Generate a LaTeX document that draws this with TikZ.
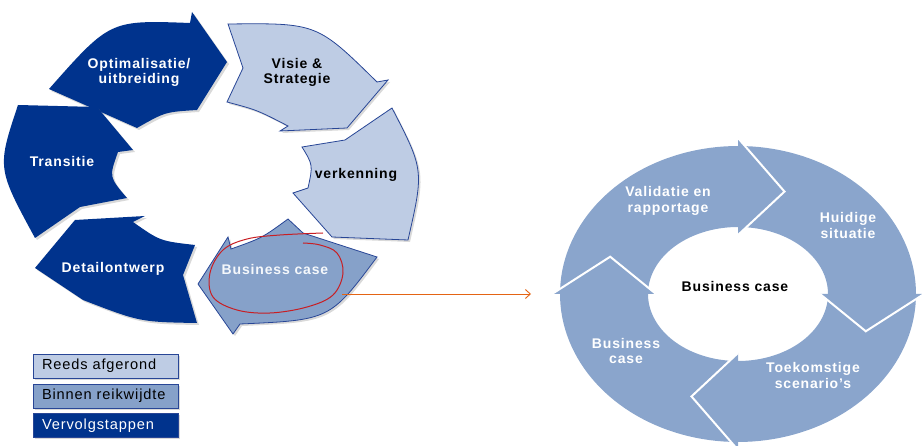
\documentclass[tikz,border=0pt]{standalone}
\usepackage{fontspec}
\setmainfont[LetterSpace=6]{Liberation Sans}
\usepackage{tikz}
\usetikzlibrary{arrows.meta,shadows}
\definecolor{stepnavy}{RGB}{0,51,141}
\definecolor{steplight}{RGB}{190,204,228}
\definecolor{stepmid}{RGB}{134,161,201}
\definecolor{stepedge}{RGB}{40,70,150}
\definecolor{ringblue}{RGB}{138,165,204}
\definecolor{handoff}{RGB}{228,100,20}
\definecolor{marker}{RGB}{200,30,35}
\tikzset{
  shadowed/.style={drop shadow={shadow xshift=2pt,shadow yshift=-2pt,opacity=.3}},
  steptext/.style={font=\bfseries\fontsize{14}{15.5}\selectfont,align=center,inner sep=0pt},
  legendbox/.style={draw=stepedge,line width=0.8pt,shadowed,minimum height=24pt,
    text width=127pt,inner xsep=9pt,align=left,font=\fontsize{14.6}{15}\selectfont},
  ringline/.style={white,line width=2pt,line join=miter},
  handoffline/.style={handoff,line width=0.9pt,-{Straight Barb[length=5pt,width=9pt]}},
}
% ring body and ring head of the right cycle, angles in screen degrees
\def\ringbody(#1:#2){\fill[ringblue] plot[domain=#1:#2,samples=40] ({738+178*cos(\x)},{294+148*sin(\x)})
  -- plot[domain=#2:#1,samples=40] ({738+90*cos(\x)},{294+67*sin(\x)}) -- cycle;}
\def\ringhead(#1){\fill[ringblue] ({738+186*cos(#1)},{294+156*sin(#1)}) -- ({738+136*cos(#1+20)},{294+109*sin(#1+20)})
  -- ({738+82*cos(#1)},{294+59*sin(#1)}) -- cycle;
  \draw[ringline] ({738+186*cos(#1)},{294+156*sin(#1)}) -- ({738+136*cos(#1+20)},{294+109*sin(#1+20)})
  -- ({738+82*cos(#1)},{294+59*sin(#1)});}

\begin{document}
\begin{tikzpicture}[x=1pt,y=-1pt]
		\useasboundingbox (0,0) rectangle (922,446);
		
		%%%%% LEFT CYCLE %%%%%
		
		\fill[stepnavy,shadowed] (49,89) -- (137,128) .. controls (165,112) .. (197,110) -- (227,62) -- (192,12)
			-- (190,23) .. controls (110,20) .. (49,89) -- cycle;
		\fill[stepnavy,shadowed] (18,105) -- (97,107) -- (133,150) -- (118,152) .. controls (109,177) .. (127,198)
			-- (80,207) -- (35,238) .. controls (-3,168) .. (18,105) -- cycle;
		\fill[stepnavy,shadowed] (35,268) -- (75,220) -- (145,216) -- (133,222) .. controls (160,241) .. (195,245)
			-- (183,275) -- (197,323) .. controls (140,322) .. (83,300) -- cycle;
		
		\filldraw[stepedge,fill=steplight,line width=0.8pt,shadowed] (228,24) -- (243,68) -- (227,102)
			.. controls (257,110) .. (288,126) -- (280,131) -- (347,128) -- (388,80) -- (377,82)
			.. controls (317,23) .. (228,24) -- cycle;
		\filldraw[stepedge,fill=steplight,line width=0.8pt,shadowed] (302,147) -- (345,140) -- (392,108)
			.. controls (424,170) .. (408,240) -- (332,237) -- (293,193) -- (308,188)
			.. controls (313,165) .. (302,147) -- cycle;
		\filldraw[stepedge,fill=stepmid,line width=0.8pt,shadowed] (198,284) -- (228,237) -- (231,249)
			.. controls (262,238) .. (288,219) -- (303,233) -- (377,257) .. controls (330,320) .. (240,324)
			-- (233,334) -- cycle;
		
		\node[steptext,white] (optim) at (139,72.5) {Optimalisatie/\\uitbreiding};
		\node[steptext] (visie) at (297,72.5) {Visie \&\\Strategie};
		\node[steptext] (verk) at (356,175) {verkenning};
		\node[steptext,white] (trans) at (62,161) {Transitie};
		\node[steptext,white] (detail) at (113,269) {Detailontwerp};
		\node[steptext,white!92!stepmid] (bcase) at (275,269) {Business case};
		
		% hand drawn loop round the business case
		\draw[marker,line width=1pt] plot[smooth,tension=0.6] coordinates {(323,233) (280,235) (247,239) (223,250)
			(210,273) (213,297) (237,310) (270,313) (307,307) (333,295) (343,273) (337,253) (320,245) (303,243)};
		
		%%%%% LEGEND %%%%%
		
		\node[legendbox,fill=steplight] (reeds) at (105.5,366) {Reeds afgerond};
		\node[legendbox,fill=stepmid] (binnen) at (105.5,396) {Binnen reikwijdte};
		\node[legendbox,fill=stepnavy,text=white] (vervolg) at (105.5,425.5) {Vervolgstappen};
		
		%%%%% RIGHT CYCLE %%%%%
		
		\ringbody(-180:-90)
		\ringbody(-90:0)
		\ringbody(0:90)
		\ringbody(90:180)
		\ringhead(-90)
		\ringhead(0)
		\ringhead(90)
		\ringhead(180)
		
		\node[steptext,white] (valid) at (668,201) {Validatie en\\rapportage};
		\node[steptext,white] (huidig) at (848,225.5) {Huidige\\situatie};
		\node[steptext,white] (toekomst) at (813,375.5) {Toekomstige\\scenario’s};
		\node[steptext,white] (bcring) at (626,351) {Business\\case};
		\node[steptext] (bccenter) at (735,286) {Business case};
		
		%%%%% HAND OFF %%%%%
		
		\coordinate (bcout) at (342,294);
		\coordinate (ringin) at (531,294);
		\draw[handoffline] (bcout) -- (ringin);
		
\end{tikzpicture}
\end{document}
